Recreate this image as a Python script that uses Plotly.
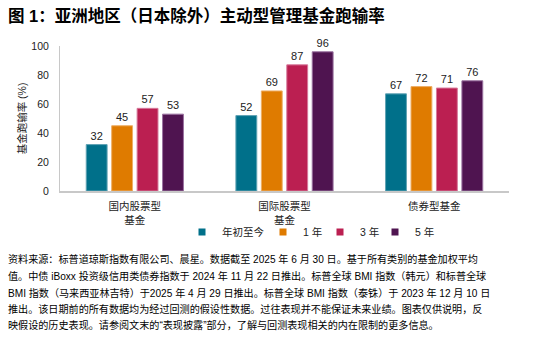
import plotly.graph_objects as go

categories = ["国内股票型<br>基金", "国际股票型<br>基金", "债券型基金"]
series_names = ["年初至今", "1 年", "3 年", "5 年"]
ytd = [32, 52, 67]
one_year = [45, 69, 72]
three_year = [57, 87, 71]
five_year = [53, 96, 76]
series_values = [ytd, one_year, three_year, five_year]
colors = ["#00708A", "#DF7B00", "#BB1F51", "#4F1450"]
edge_colors = ["#5FA3B4", "#EDAE66", "#D7799A", "#9A72A0"]
legend_widths = [36, 12, 10, 20]
y_ticks = [0, 20, 40, 60, 80, 100]

title_text = "<b>图 1：亚洲地区（日本除外）主动型管理基金跑输率</b>"
y_title = "基金跑输率 (%)"
footnote_lines = [
    "资料来源：标普道琼斯指数有限公司、晨星。数据截至 2025 年 6 月 30 日。基于所有类别的基金加权平均",
    "值。中债 iBoxx 投资级信用类债券指数于 2024 年 11 月 22 日推出。标普全球 BMI 指数（韩元）和标普全球",
    "BMI 指数（马来西亚林吉特）于2025 年 4 月 29 日推出。标普全球 BMI 指数（泰铢）于 2023 年 12 月 10 日",
    "推出。该日期前的所有数据均为经过回测的假设性数据。过往表现并不能保证未来业绩。图表仅供说明，反",
    "映假设的历史表现。请参阅文末的“表现披露”部分，了解与回测表现相关的内在限制的更多信息。",
]

FONT = "Liberation Sans, Arial, Noto Sans CJK SC, sans-serif"

fig = go.Figure()
for name, vals, c, ec in zip(series_names, series_values, colors, edge_colors):
    fig.add_trace(go.Bar(
        x=categories, y=vals, name=name, showlegend=False,
        marker=dict(color=c, line=dict(color=ec, width=1)),
        text=[str(v) for v in vals], textposition="outside",
        textfont=dict(size=11, color="#222222", family=FONT),
        cliponaxis=False,
    ))
# legend entries (small square swatches as in the reference)
for name, c, lw in zip(series_names, colors, legend_widths):
    fig.add_trace(go.Scatter(
        x=[None], y=[None], name=name, mode="markers",
        marker=dict(symbol="square", size=7, color=c),
        showlegend=True, legendwidth=lw,
    ))

W, H = 550, 349
L, R, T, B = 60, 41, 46, 158
ph = H - T - B

def py(p):
    return (H - B - p) / ph

def px(p):
    return (p - L) / (W - L - R)

annotations = [
    dict(text=title_text, xref="paper", yref="paper", x=px(6), y=py(15),
         xanchor="left", yanchor="middle", showarrow=False,
         font=dict(size=16.5, color="#000000", family=FONT)),
]
foot_y = [259, 276, 293, 309, 325, 341]
for line, yy in zip(footnote_lines, foot_y):
    annotations.append(dict(text=line, xref="paper", yref="paper", x=px(6), y=py(yy),
                            xanchor="left", yanchor="middle", showarrow=False,
                            font=dict(size=10.1, color="#000000", family=FONT)))

fig.update_layout(
    width=W, height=H,
    margin=dict(l=L, r=R, t=T, b=B, pad=0),
    paper_bgcolor="white", plot_bgcolor="white",
    barmode="group", bargap=0.32, bargroupgap=0.18,
    font=dict(family=FONT, size=11, color="#222222"),
    showlegend=True,
    legend=dict(orientation="h", x=px(182), y=py(232), xanchor="left", yanchor="middle",
                font=dict(size=10.5, color="#222222", family=FONT),
                itemwidth=30, tracegroupgap=0, bgcolor="rgba(0,0,0,0)"),
    annotations=annotations,
)
fig.update_xaxes(
    showline=True, linecolor="#C8C8C8", linewidth=1.5,
    ticks="", ticklabelstandoff=5, tickfont=dict(size=10.5, color="#222222", family=FONT),
    showgrid=False, zeroline=False,
)
fig.update_yaxes(
    range=[0, 100], tickvals=y_ticks, showline=True, linecolor="#C8C8C8", linewidth=1,
    ticks="", ticklabelstandoff=8, tickfont=dict(size=10.5, color="#222222", family=FONT),
    showgrid=False, zeroline=False,
    title=dict(text=y_title, standoff=2, font=dict(size=10.5, color="#222222", family=FONT)),
)

fig.write_html("out.html")
